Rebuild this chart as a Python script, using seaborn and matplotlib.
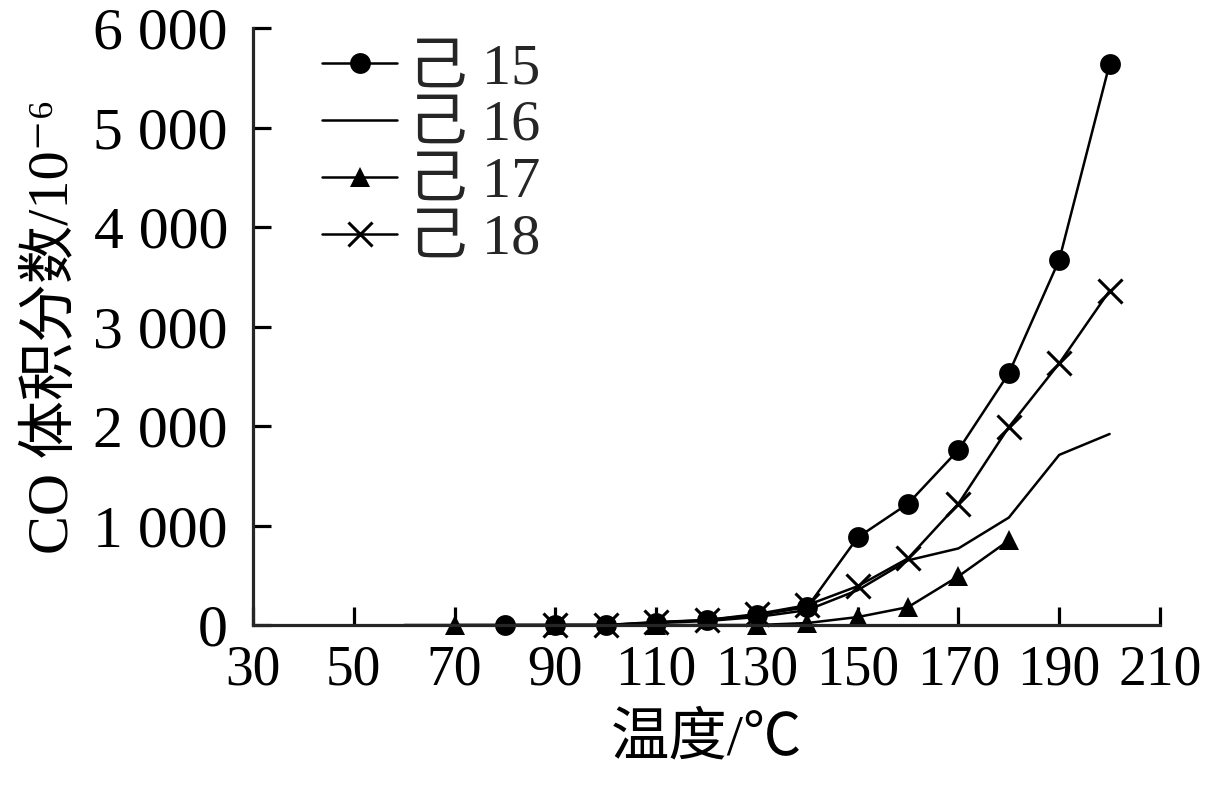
import numpy as np
import pandas as pd
import matplotlib
matplotlib.use('Agg')
import matplotlib.pyplot as plt
import seaborn as sns
from matplotlib.ticker import FuncFormatter

# temperature (C) and CO volume fraction (1e-6) for each sample
temp15 = [80, 90, 100, 110, 120, 130, 140, 150, 160, 170, 180, 190, 200]
co15 = [0, 0, 0, 25, 50, 100, 180, 880, 1220, 1760, 2530, 3670, 5640]

temp16 = [60, 70, 80, 90, 100, 110, 120, 130, 140, 150, 160, 170, 180, 190, 200]
co16 = [0, 0, 0, 0, 0, 20, 40, 80, 150, 350, 650, 770, 1080, 1710, 1920]

temp17 = [70, 90, 110, 130, 140, 150, 160, 170, 180]
co17 = [0, 0, 0, 0, 20, 80, 180, 490, 850]

temp18 = [90, 100, 110, 120, 130, 140, 150, 160, 170, 180, 190, 200]
co18 = [0, 0, 30, 50, 110, 200, 390, 670, 1220, 1990, 2630, 3360]

names = ['己 15', '己 16', '己 17', '己 18']
markers = ['o', None, '^', 'x']
msizes = [15, 0, 15, 17]

df = pd.concat([
    pd.DataFrame({'temp': temp15, 'co': co15, 'sample': names[0]}),
    pd.DataFrame({'temp': temp16, 'co': co16, 'sample': names[1]}),
    pd.DataFrame({'temp': temp17, 'co': co17, 'sample': names[2]}),
    pd.DataFrame({'temp': temp18, 'co': co18, 'sample': names[3]}),
], ignore_index=True)

sns.set_style('ticks')
plt.rcParams['font.family'] = ['Liberation Serif', 'Noto Sans CJK SC', 'DejaVu Sans']
plt.rcParams['axes.unicode_minus'] = False

fig = plt.figure(figsize=(12.18, 7.85), dpi=100)
ax = fig.add_axes([0.2077, 0.2038, 0.7447, 0.7605])

for name, mk, ms in zip(names, markers, msizes):
    sub = df[df['sample'] == name]
    sns.lineplot(data=sub, x='temp', y='co', ax=ax, color='black', linewidth=1.8,
                 marker=mk, markersize=ms, markeredgecolor='black',
                 markeredgewidth=2.2 if mk == 'x' else 0,
                 label=name, clip_on=False)

ax.set_xlim(30, 210)
ax.set_ylim(0, 6000)
ax.set_xticks(range(30, 211, 20))
ax.set_yticks(range(0, 6001, 1000))
ax.yaxis.set_major_formatter(FuncFormatter(lambda v, p: '{:,}'.format(int(v)).replace(',', ' ')))

for s in ['top', 'right']:
    ax.spines[s].set_visible(False)
for s in ['left', 'bottom']:
    ax.spines[s].set_linewidth(2.3)
ax.tick_params(direction='in', length=13, width=2.3, colors='black')
ax.tick_params(axis='y', labelsize=43, pad=18)
ax.tick_params(axis='x', labelsize=40, pad=14)

ax.set_xlabel('温度/℃', fontsize=42, labelpad=12, color='black')
ax.set_ylabel('CO 体积分数/10⁻⁶', fontsize=42, labelpad=10, color='black')

ax.legend(loc='upper left', bbox_to_anchor=(0.05, 1.015), frameon=False, fontsize=42,
          handlelength=1.3, handletextpad=0.2, labelspacing=0.07, borderaxespad=0)

plt.savefig('out.png', dpi=100)
